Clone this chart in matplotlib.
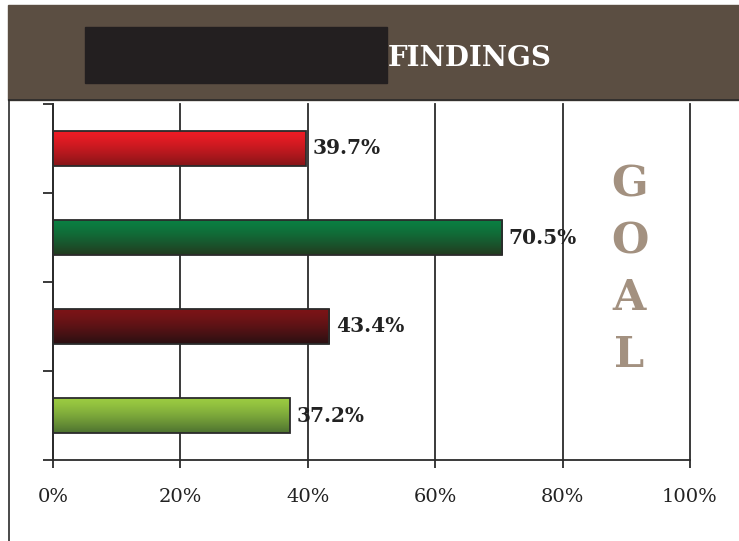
import matplotlib.pyplot as plt
import numpy as np
from matplotlib.patches import Rectangle
from matplotlib.lines import Line2D

values = [39.7, 70.5, 43.4, 37.2]          # top to bottom
labels = ['39.7%', '70.5%', '43.4%', '37.2%']
top_colors = ['#ee1c25', '#0a7f42', '#7c1417', '#9bcb41']
bottom_colors = ['#861518', '#233a1f', '#2a1012', '#4d7230']
xticks = [0, 20, 40, 60, 80, 100]
xticklabels = ['0%', '20%', '40%', '60%', '80%', '100%']
goal = 'GOAL'

W, H = 739, 541
fig = plt.figure(figsize=(W / 100, H / 100), dpi=100)

# header band
fig.patches.append(Rectangle((8 / W, 1 - 100 / H), 1 - 8 / W, 95 / H,
                             transform=fig.transFigure, color='#5b4e42', zorder=0))
fig.patches.append(Rectangle((85 / W, 1 - 83 / H), 302 / W, 56 / H,
                             transform=fig.transFigure, color='#231f20', zorder=1))
fig.text(388 / W, 1 - 58 / H, 'FINDINGS', color='white', fontsize=20,
         fontweight='bold', family='DejaVu Serif', va='center', ha='left')
fig.lines.append(Line2D([9 / W, 1], [1 - 100 / H, 1 - 100 / H],
                        transform=fig.transFigure, color='#2b2b2b', lw=1.2))
fig.lines.append(Line2D([9 / W, 9 / W], [0, 1 - 100 / H],
                        transform=fig.transFigure, color='#2b2b2b', lw=1.2))

ax = fig.add_axes([53 / W, 81 / H, 637 / W, 356 / H])
ypos = np.arange(len(values)) + 0.5
bars = ax.barh(ypos, values, height=0.39, color='none',
               edgecolor='#2b2b2b', linewidth=1.3, zorder=3)

# vertical gradient fill inside each bar
for bar, c1, c2 in zip(bars, top_colors, bottom_colors):
    x0, y0 = bar.get_x(), bar.get_y()
    w, h = bar.get_width(), bar.get_height()
    a = np.array(plt.matplotlib.colors.to_rgb(c1))
    b = np.array(plt.matplotlib.colors.to_rgb(c2))
    t = np.linspace(0, 1, 64)[:, None] ** 1.3
    grad = (a * (1 - t) + b * t)[:, None, :]
    im = ax.imshow(grad, extent=[x0, x0 + w, y0 + h, y0], aspect='auto',
                   zorder=2, interpolation='bilinear')
    im.set_clip_path(bar)

for v, lab, y in zip(values, labels, ypos):
    ax.text(v + 1.0, y, lab, va='center', ha='left', fontsize=14.5,
            fontweight='bold', family='DejaVu Serif', color='#222222', zorder=4)

for i, ch in enumerate(goal):
    ax.text(90.5, 0.9 + i * 0.64, ch, ha='center', va='center', fontsize=31,
            fontweight='bold', family='DejaVu Serif', color='#a39180')

ax.set_xlim(0, 100)
ax.set_ylim(4, 0)
ax.set_xticks(xticks)
ax.set_xticklabels(xticklabels, family='DejaVu Serif', fontsize=14, color='#222222')
ax.set_yticks([0, 1, 2, 3, 4])
ax.set_yticklabels([])
ax.tick_params(axis='x', length=6, width=1.3, pad=14, color='#2b2b2b')
ax.tick_params(axis='y', length=7, width=1.3, color='#2b2b2b')
ax.grid(axis='x', color='#2b2b2b', lw=1.3, zorder=1)
for gl in ax.get_xgridlines():
    gl.set_clip_on(False)
ax.set_axisbelow(True)
for s in ['top', 'right']:
    ax.spines[s].set_visible(False)
for s in ['left', 'bottom']:
    ax.spines[s].set_color('#2b2b2b')
    ax.spines[s].set_linewidth(1.3)

fig.savefig('out.png', dpi=100)
